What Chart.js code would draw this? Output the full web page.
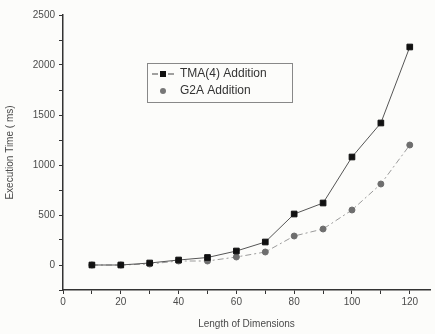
<!DOCTYPE html>
<html lang="en">
<head>
    <meta charset="UTF-8">
    <title>Execution Time</title>
    <style>
        body {
            margin: 0;
            background: #fcfcfa;
        }
        #wrap {
            width: 435px;
            height: 334px;
        }
    </style>
</head>
<body>
    <div id="wrap">
        <canvas id="chart"></canvas>
    </div>
    <script src="https://cdn.jsdelivr.net/npm/chart.js@4.4.1/dist/chart.umd.min.js"></script>
    <script>
        // values
        const dimensions = [10, 20, 30, 40, 50, 60, 70, 80, 90, 100, 110, 120];
        const tmaTimes = [0, 0, 20, 50, 75, 140, 230, 510, 620, 1080, 1420, 2180];
        const g2aTimes = [0, 0, 10, 40, 40, 80, 130, 290, 360, 550, 810, 1200];
        const seriesNames = ['TMA(4) Addition', 'G2A Addition'];
        const xTickValues = [0, 10, 20, 30, 40, 50, 60, 70, 80, 90, 100, 110, 120];

        const textColor = '#4a4a4a';
        const axisColor = '#333';
        const fontFamily = 'Arial, "Liberation Sans", sans-serif';

        function toPoints(values) {
            return dimensions.map((d, i) => ({ x: d, y: values[i] }));
        }

        // legend drawn inside the plot, like the original figure
        const boxLegend = {
            id: 'boxLegend',
            afterDraw(chart) {
                const ctx = chart.ctx;
                const x0 = 147, y0 = 63, w = 145, h = 39;
                ctx.save();
                ctx.strokeStyle = '#888';
                ctx.lineWidth = 1;
                ctx.strokeRect(x0 + 0.5, y0 + 0.5, w, h);
                ctx.font = '12px ' + fontFamily;
                ctx.textBaseline = 'middle';
                chart.data.datasets.forEach((ds, i) => {
                    const cy = y0 + 11 + i * 17;
                    if (i === 0) {
                        ctx.strokeStyle = '#444';
                        ctx.beginPath();
                        ctx.moveTo(x0 + 5, cy);
                        ctx.lineTo(x0 + 11, cy);
                        ctx.moveTo(x0 + 21, cy);
                        ctx.lineTo(x0 + 27, cy);
                        ctx.stroke();
                        ctx.fillStyle = '#111';
                        ctx.fillRect(x0 + 13, cy - 3, 6, 6);
                    } else {
                        ctx.fillStyle = '#777';
                        ctx.beginPath();
                        ctx.arc(x0 + 16, cy, 3, 0, Math.PI * 2);
                        ctx.fill();
                    }
                    ctx.fillStyle = '#333';
                    ctx.fillText(ds.label, x0 + 33, cy);
                });
                ctx.restore();
            }
        };

        new Chart(document.getElementById('chart'), {
            type: 'line',
            data: {
                datasets: [
                    {
                        label: seriesNames[0],
                        data: toPoints(tmaTimes),
                        borderColor: '#555',
                        borderWidth: 1,
                        pointStyle: 'rect',
                        pointRadius: 4,
                        pointBackgroundColor: '#111',
                        pointBorderColor: '#111',
                        tension: 0
                    },
                    {
                        label: seriesNames[1],
                        data: toPoints(g2aTimes),
                        borderColor: '#9a9a9a',
                        borderWidth: 1,
                        borderDash: [6, 3, 2, 3],
                        pointStyle: 'circle',
                        pointRadius: 3,
                        pointBackgroundColor: '#6e6e6e',
                        pointBorderColor: '#6e6e6e',
                        tension: 0
                    }
                ]
            },
            options: {
                responsive: true,
                maintainAspectRatio: false,
                animation: false,
                layout: { padding: { top: 15, right: 3, left: 0, bottom: 0 } },
                plugins: {
                    legend: { display: false },
                    tooltip: { enabled: false }
                },
                scales: {
                    x: {
                        type: 'linear',
                        min: 0,
                        max: 127,
                        afterBuildTicks: (axis) => {
                            axis.ticks = xTickValues.map(v => ({ value: v }));
                        },
                        afterFit: (axis) => { axis.height = 44; },
                        ticks: {
                            autoSkip: false,
                            maxRotation: 0,
                            padding: 2,
                            color: textColor,
                            font: { family: fontFamily, size: 10 },
                            callback: (v) => (v % 20 === 0 ? v : '')
                        },
                        grid: {
                            drawOnChartArea: false,
                            tickLength: 4,
                            color: axisColor
                        },
                        border: { color: axisColor, width: 1.5 },
                        title: {
                            display: true,
                            text: 'Length of Dimensions',
                            color: textColor,
                            font: { family: fontFamily, size: 10 },
                            padding: { top: 6 }
                        }
                    },
                    y: {
                        min: -250,
                        max: 2500,
                        afterFit: (axis) => { axis.width = 63; },
                        ticks: {
                            stepSize: 250,
                            autoSkip: false,
                            padding: 4,
                            color: textColor,
                            font: { family: fontFamily, size: 10 },
                            callback: (v) => (v % 500 === 0 ? v : '')
                        },
                        grid: {
                            drawOnChartArea: false,
                            tickLength: 4,
                            color: axisColor
                        },
                        border: { color: axisColor, width: 1.5 },
                        title: {
                            display: true,
                            text: 'Execution Time ( ms)',
                            color: textColor,
                            font: { family: fontFamily, size: 10 },
                            padding: { top: 4, bottom: 8 }
                        }
                    }
                }
            },
            plugins: [boxLegend]
        });
    </script>
</body>
</html>
